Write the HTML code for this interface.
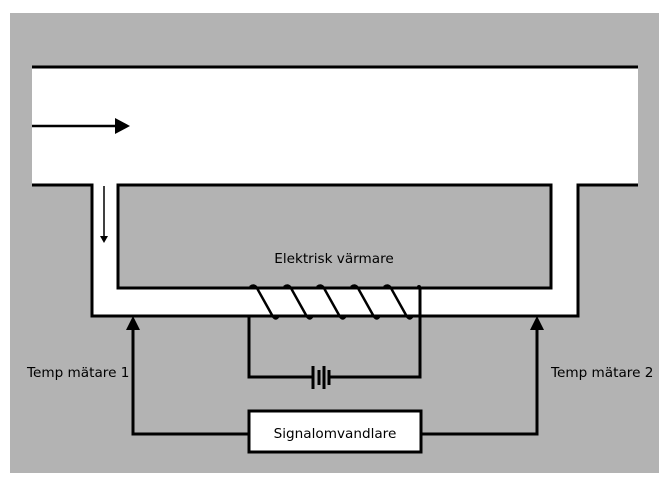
<!DOCTYPE html>
<html><head><style>body{margin:0;background:#fff}svg{display:block}</style></head><body>
<svg width="670" height="487" xmlns="http://www.w3.org/2000/svg" font-family="DejaVu Sans, sans-serif" font-size="13.6">
<rect x="10" y="13" width="649" height="460" fill="#b3b3b3"/>
<rect x="32" y="67" width="606" height="118" fill="#fff"/>
<rect x="92" y="184" width="486" height="132" fill="#fff"/>
<rect x="118" y="185" width="433" height="103" fill="#b3b3b3" stroke="#000" stroke-width="3"/>
<g stroke="#000" stroke-width="3" fill="none">
<line x1="32" y1="67" x2="638" y2="67"/>
<polyline points="32,185 92,185 92,316 578,316 578,185 638,185"/>
<polyline points="249,316 249,377 313,377"/>
<polyline points="329,377 420,377 420,287"/>
<rect x="249" y="411" width="172" height="41" fill="#fff"/>
<polyline points="249,434 133,434 133,328"/>
<polyline points="421,434 537,434 537,328"/>
<line x1="313" y1="366" x2="313" y2="389"/>
<line x1="319" y1="370" x2="319" y2="385"/>
<line x1="324" y1="366" x2="324" y2="389"/>
<line x1="329" y1="370" x2="329" y2="385"/>
</g>
<g stroke="#000" stroke-width="2.5" fill="none">
<path d="M250,287 Q255,283 258,290 L272,315 Q276,322 279,315"/>
<path d="M284,287 Q289,283 292,290 L306,315 Q310,322 313,315"/>
<path d="M317,287 Q322,283 325,290 L339,315 Q343,322 346,315"/>
<path d="M351,287 Q356,283 359,290 L373,315 Q377,322 380,315"/>
<path d="M384,287 Q389,283 392,290 L406,315 Q410,322 413,315"/>
</g>
<circle cx="419" cy="287" r="2" fill="#000"/>
<line x1="32" y1="126" x2="116" y2="126" stroke="#000" stroke-width="2.5"/>
<polygon points="115,118 130,126 115,134" fill="#000"/>
<line x1="104" y1="186" x2="104" y2="236" stroke="#000" stroke-width="1.5"/>
<polygon points="100,236 108,236 104,243" fill="#000"/>
<polygon points="126,330 140,330 133,316" fill="#000"/>
<polygon points="530,330 544,330 537,316" fill="#000"/>
<text x="334" y="263" text-anchor="middle">Elektrisk värmare</text>
<text x="335" y="438" text-anchor="middle">Signalomvandlare</text>
<text x="27" y="377">Temp mätare 1</text>
<text x="551" y="377">Temp mätare 2</text>
</svg>
</body></html>
